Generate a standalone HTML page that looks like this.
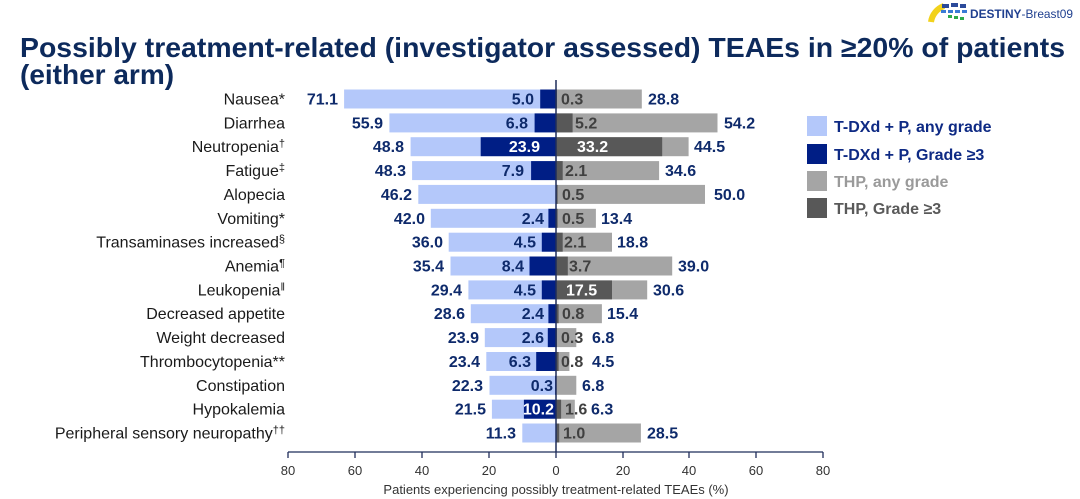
<!DOCTYPE html>
<html><head><meta charset="utf-8"><style>
html,body{margin:0;padding:0;background:#fff;}
svg{display:block;font-family:"Liberation Sans",Arial,sans-serif;}
.c{font-size:16px;fill:#1a1a1a;text-anchor:end;}
.v{font-size:16px;font-weight:bold;fill:#0e2a6b;}
.g{font-size:16px;font-weight:bold;fill:#404040;}
.w{font-size:16px;font-weight:bold;fill:#fff;}
.t{font-size:13px;fill:#333;text-anchor:middle;}
</style></head><body>
<svg width="1080" height="499" viewBox="0 0 1080 499">
<g>
<path d="M931 22 A20 20 0 0 1 944 6" stroke="#f2d21b" stroke-width="6" fill="none"/>
<rect x="942" y="4" width="7" height="4" fill="#2b4a9a"/><rect x="951" y="3" width="7" height="4" fill="#2b4a9a"/><rect x="960" y="4" width="6" height="4" fill="#2b4a9a"/>
<rect x="941" y="10" width="5" height="3" fill="#3a7bd5"/><rect x="948" y="10" width="5" height="3" fill="#3a7bd5"/><rect x="955" y="10" width="5" height="3" fill="#3a7bd5"/><rect x="962" y="10" width="5" height="3" fill="#3a7bd5"/>
<rect x="948" y="15" width="4" height="3" fill="#2eaa4a"/><rect x="954" y="16" width="4" height="3" fill="#2eaa4a"/><rect x="960" y="17" width="4" height="3" fill="#2eaa4a"/>
<text x="970" y="18" font-size="12" fill="#1f3f8f" textLength="103" lengthAdjust="spacingAndGlyphs"><tspan font-weight="bold">DESTINY</tspan>-Breast09</text>
</g>
<text x="20" y="57" font-size="28" font-weight="bold" fill="#0d2a5c" textLength="1045" lengthAdjust="spacingAndGlyphs">Possibly treatment-related (investigator assessed) TEAEs in ≥20% of patients</text>
<text x="20" y="84" font-size="28" font-weight="bold" fill="#0d2a5c">(either arm)</text>

<g fill="#b4c8fa">
<rect x="344.1" y="89.5" width="211.9" height="19"/>
<rect x="389.4" y="113.4" width="166.6" height="19"/>
<rect x="410.6" y="137.2" width="145.4" height="19"/>
<rect x="412.1" y="161.1" width="143.9" height="19"/>
<rect x="418.3" y="184.9" width="137.7" height="19"/>
<rect x="430.8" y="208.8" width="125.2" height="19"/>
<rect x="448.7" y="232.7" width="107.3" height="19"/>
<rect x="450.5" y="256.5" width="105.5" height="19"/>
<rect x="468.4" y="280.4" width="87.6" height="19"/>
<rect x="470.8" y="304.2" width="85.2" height="19"/>
<rect x="484.8" y="328.1" width="71.2" height="19"/>
<rect x="486.3" y="352.0" width="69.7" height="19"/>
<rect x="489.5" y="375.8" width="66.5" height="19"/>
<rect x="491.9" y="399.7" width="64.1" height="19"/>
<rect x="522.3" y="423.5" width="33.7" height="19"/>
</g>
<g fill="#001e85">
<rect x="540.2" y="89.5" width="15.8" height="19"/>
<rect x="534.6" y="113.4" width="21.4" height="19"/>
<rect x="480.7" y="137.2" width="75.3" height="19"/>
<rect x="531.1" y="161.1" width="24.9" height="19"/>
<rect x="548.4" y="208.8" width="7.6" height="19"/>
<rect x="541.8" y="232.7" width="14.2" height="19"/>
<rect x="529.5" y="256.5" width="26.5" height="19"/>
<rect x="541.8" y="280.4" width="14.2" height="19"/>
<rect x="548.4" y="304.2" width="7.6" height="19"/>
<rect x="547.8" y="328.1" width="8.2" height="19"/>
<rect x="536.2" y="352.0" width="19.8" height="19"/>
<rect x="555.1" y="375.8" width="0.9" height="19"/>
<rect x="523.9" y="399.7" width="32.1" height="19"/>
</g>
<g fill="#a5a5a5">
<rect x="556" y="89.5" width="85.8" height="19"/>
<rect x="556" y="113.4" width="161.5" height="19"/>
<rect x="556" y="137.2" width="132.6" height="19"/>
<rect x="556" y="161.1" width="103.1" height="19"/>
<rect x="556" y="184.9" width="149" height="19"/>
<rect x="556" y="208.8" width="39.9" height="19"/>
<rect x="556" y="232.7" width="56" height="19"/>
<rect x="556" y="256.5" width="116.2" height="19"/>
<rect x="556" y="280.4" width="91.2" height="19"/>
<rect x="556" y="304.2" width="45.9" height="19"/>
<rect x="556" y="328.1" width="20.3" height="19"/>
<rect x="556" y="352.0" width="13.4" height="19"/>
<rect x="556" y="375.8" width="20.3" height="19"/>
<rect x="556" y="399.7" width="18.8" height="19"/>
<rect x="556" y="423.5" width="84.9" height="19"/>
</g>
<g fill="#585858">
<rect x="556" y="89.5" width="1" height="19"/>
<rect x="556" y="113.4" width="16.6" height="19"/>
<rect x="556" y="137.2" width="106.2" height="19"/>
<rect x="556" y="161.1" width="6.7" height="19"/>
<rect x="556" y="184.9" width="1.6" height="19"/>
<rect x="556" y="208.8" width="1.6" height="19"/>
<rect x="556" y="232.7" width="6.7" height="19"/>
<rect x="556" y="256.5" width="11.8" height="19"/>
<rect x="556" y="280.4" width="56" height="19"/>
<rect x="556" y="304.2" width="2.6" height="19"/>
<rect x="556" y="328.1" width="1" height="19"/>
<rect x="556" y="352.0" width="2.6" height="19"/>
<rect x="556" y="399.7" width="5.1" height="19"/>
<rect x="556" y="423.5" width="3.2" height="19"/>
</g>
<line x1="556" y1="80" x2="556" y2="452" stroke="#1f2d5a" stroke-width="1.5"/>

<g class="c">
<text x="285" y="104.5">Nausea*</text>
<text x="285" y="128.4">Diarrhea</text>
<text x="285" y="152.2">Neutropenia<tspan font-size="11" dy="-5">†</tspan></text>
<text x="285" y="176.1">Fatigue<tspan font-size="11" dy="-5">‡</tspan></text>
<text x="285" y="199.9">Alopecia</text>
<text x="285" y="223.8">Vomiting*</text>
<text x="285" y="247.7">Transaminases increased<tspan font-size="11" dy="-5">§</tspan></text>
<text x="285" y="271.5">Anemia<tspan font-size="11" dy="-5">¶</tspan></text>
<text x="285" y="295.4">Leukopenia<tspan font-size="11" dy="-5">‖</tspan></text>
<text x="285" y="319.2">Decreased appetite</text>
<text x="285" y="343.1">Weight decreased</text>
<text x="285" y="367.0">Thrombocytopenia**</text>
<text x="285" y="390.8">Constipation</text>
<text x="285" y="414.7">Hypokalemia</text>
<text x="285" y="438.5">Peripheral sensory neuropathy<tspan font-size="11" dy="-5">††</tspan></text>
</g>
<g class="v" text-anchor="end">
<text x="338" y="104.5">71.1</text>
<text x="383" y="128.4">55.9</text>
<text x="404" y="152.2">48.8</text>
<text x="406" y="176.1">48.3</text>
<text x="412" y="199.9">46.2</text>
<text x="425" y="223.8">42.0</text>
<text x="443" y="247.7">36.0</text>
<text x="444" y="271.5">35.4</text>
<text x="462" y="295.4">29.4</text>
<text x="465" y="319.2">28.6</text>
<text x="479" y="343.1">23.9</text>
<text x="480" y="367.0">23.4</text>
<text x="483" y="390.8">22.3</text>
<text x="486" y="414.7">21.5</text>
<text x="516" y="438.5">11.3</text>
</g>
<g class="v" text-anchor="end">
<text x="534" y="104.5">5.0</text>
<text x="528" y="128.4">6.8</text>
<text x="524" y="176.1">7.9</text>
<text x="544" y="223.8">2.4</text>
<text x="536" y="247.7">4.5</text>
<text x="524" y="271.5">8.4</text>
<text x="536" y="295.4">4.5</text>
<text x="544" y="319.2">2.4</text>
<text x="544" y="343.1">2.6</text>
<text x="531" y="367.0">6.3</text>
<text x="553" y="390.8">0.3</text>
</g>
<g class="w" text-anchor="end">
<text x="540" y="152.2">23.9</text>
<text x="554" y="414.7">10.2</text>
</g>
<g class="g">
<text x="561" y="104.5">0.3</text>
<text x="575" y="128.4">5.2</text>
<text x="565" y="176.1">2.1</text>
<text x="562" y="199.9">0.5</text>
<text x="562" y="223.8">0.5</text>
<text x="564" y="247.7">2.1</text>
<text x="569" y="271.5">3.7</text>
<text x="562" y="319.2">0.8</text>
<text x="561" y="343.1">0.3</text>
<text x="561" y="367.0">0.8</text>
<text x="565" y="414.7">1.6</text>
<text x="563" y="438.5">1.0</text>
</g>
<g class="w">
<text x="577" y="152.2">33.2</text>
<text x="566" y="295.4">17.5</text>
</g>
<g class="v">
<text x="648" y="104.5">28.8</text>
<text x="724" y="128.4">54.2</text>
<text x="694" y="152.2">44.5</text>
<text x="665" y="176.1">34.6</text>
<text x="714" y="199.9">50.0</text>
<text x="601" y="223.8">13.4</text>
<text x="617" y="247.7">18.8</text>
<text x="678" y="271.5">39.0</text>
<text x="653" y="295.4">30.6</text>
<text x="607" y="319.2">15.4</text>
<text x="592" y="343.1">6.8</text>
<text x="592" y="367.0">4.5</text>
<text x="582" y="390.8">6.8</text>
<text x="591" y="414.7">6.3</text>
<text x="647" y="438.5">28.5</text>
</g>

<g stroke="#1f2d5a" stroke-width="1.3">
<line x1="288" y1="452" x2="823" y2="452"/>
<line x1="288" y1="452" x2="288" y2="458"/>
<line x1="355" y1="452" x2="355" y2="458"/>
<line x1="422" y1="452" x2="422" y2="458"/>
<line x1="489" y1="452" x2="489" y2="458"/>
<line x1="556" y1="452" x2="556" y2="458"/>
<line x1="623" y1="452" x2="623" y2="458"/>
<line x1="689" y1="452" x2="689" y2="458"/>
<line x1="756" y1="452" x2="756" y2="458"/>
<line x1="823" y1="452" x2="823" y2="458"/>
</g>
<g class="t">
<text x="288" y="475">80</text><text x="355" y="475">60</text><text x="422" y="475">40</text><text x="489" y="475">20</text><text x="556" y="475">0</text>
<text x="623" y="475">20</text><text x="689" y="475">40</text><text x="756" y="475">60</text><text x="823" y="475">80</text>
<text x="556" y="494">Patients experiencing possibly treatment-related TEAEs (%)</text>
</g>

<rect x="807" y="116" width="20" height="20" fill="#b4c8fa"/>
<rect x="807" y="144" width="20" height="20" fill="#001e85"/>
<rect x="807" y="171" width="20" height="20" fill="#a5a5a5"/>
<rect x="807" y="198" width="20" height="20" fill="#585858"/>
<g font-size="16" font-weight="bold">
<text x="834" y="132" fill="#0e2a84">T-DXd + P, any grade</text>
<text x="834" y="160" fill="#0e2a84">T-DXd + P, Grade ≥3</text>
<text x="834" y="187" fill="#9a9a9a">THP, any grade</text>
<text x="834" y="214" fill="#5a5a5a">THP, Grade ≥3</text>
</g>
</svg>
</body></html>
